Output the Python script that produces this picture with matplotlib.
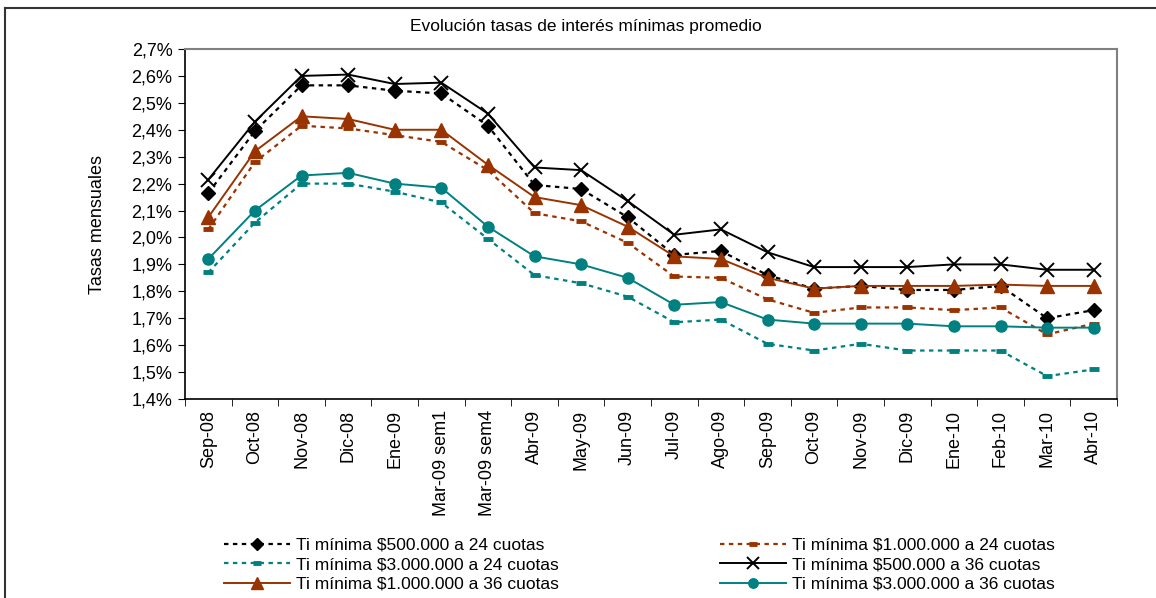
import numpy as np
import matplotlib
matplotlib.use("Agg")
import matplotlib.pyplot as plt
from matplotlib.ticker import FuncFormatter
from matplotlib.lines import Line2D

plt.rcParams['font.family'] = ['Liberation Sans', 'DejaVu Sans']

meses = ["Sep-08", "Oct-08", "Nov-08", "Dic-08", "Ene-09", "Mar-09 sem1", "Mar-09 sem4",
         "Abr-09", "May-09", "Jun-09", "Jul-09", "Ago-09", "Sep-09", "Oct-09", "Nov-09",
         "Dic-09", "Ene-10", "Feb-10", "Mar-10", "Abr-10"]

# tasas mensuales (%)
ti_500_24 = [2.165, 2.395, 2.565, 2.565, 2.545, 2.535, 2.415, 2.195, 2.18, 2.075,
             1.935, 1.95, 1.86, 1.81, 1.82, 1.805, 1.805, 1.82, 1.70, 1.73]
ti_1m_24 = [2.03, 2.28, 2.415, 2.405, 2.38, 2.355, 2.25, 2.09, 2.06, 1.98,
            1.855, 1.85, 1.77, 1.72, 1.74, 1.74, 1.73, 1.74, 1.64, 1.68]
ti_3m_24 = [1.87, 2.055, 2.20, 2.20, 2.17, 2.13, 1.995, 1.86, 1.83, 1.78,
            1.685, 1.695, 1.605, 1.58, 1.605, 1.58, 1.58, 1.58, 1.485, 1.51]
ti_500_36 = [2.215, 2.43, 2.60, 2.605, 2.57, 2.575, 2.46, 2.26, 2.25, 2.135,
             2.01, 2.03, 1.945, 1.89, 1.89, 1.89, 1.90, 1.90, 1.88, 1.88]
ti_1m_36 = [2.075, 2.32, 2.45, 2.44, 2.40, 2.40, 2.27, 2.15, 2.12, 2.04,
            1.93, 1.92, 1.85, 1.81, 1.82, 1.82, 1.82, 1.825, 1.82, 1.82]
ti_3m_36 = [1.92, 2.10, 2.23, 2.24, 2.20, 2.185, 2.04, 1.93, 1.90, 1.85,
            1.75, 1.76, 1.695, 1.68, 1.68, 1.68, 1.67, 1.67, 1.665, 1.665]

negro = "black"
cafe = "#993300"
verde = "#008080"

fig = plt.figure(figsize=(11.56, 5.98), dpi=100)
ax = fig.add_axes([185 / 1156, 1 - 399 / 598, (1117 - 185) / 1156, (399 - 49) / 598])

x = np.arange(len(meses))
pts = (0, (2, 2))

l1, = ax.plot(x, ti_500_24, color=negro, lw=1.6, ls=pts, marker="D", ms=7,
              label="Ti mínima $500.000 a 24 cuotas")
l2, = ax.plot(x, ti_1m_24, color=cafe, lw=1.6, ls=pts, marker="_", ms=7, mew=3.5,
              label="Ti mínima $1.000.000 a 24 cuotas")
l3, = ax.plot(x, ti_3m_24, color=verde, lw=1.6, ls=pts, marker="_", ms=7, mew=3.5,
              label="Ti mínima $3.000.000 a 24 cuotas")
l4, = ax.plot(x, ti_500_36, color=negro, lw=1.4, marker="x", ms=10, mew=1.4,
              label="Ti mínima $500.000 a 36 cuotas")
l5, = ax.plot(x, ti_1m_36, color=cafe, lw=1.4, marker="^", ms=9.5,
              label="Ti mínima $1.000.000 a 36 cuotas")
l6, = ax.plot(x, ti_3m_36, color=verde, lw=1.4, marker="o", ms=8,
              label="Ti mínima $3.000.000 a 36 cuotas")

ax.set_xlim(-0.5, len(meses) - 0.5)
ax.set_ylim(1.4, 2.7)
ax.set_yticks(np.arange(1.4, 2.701, 0.1))
ax.yaxis.set_major_formatter(FuncFormatter(lambda v, p: f"{v:.1f}%".replace(".", ",")))
ax.set_xticks(x)
ax.set_xticklabels(meses, rotation=90)
ax.set_xticks(np.arange(-0.5, len(meses)), minor=True)
ax.tick_params(axis="x", which="major", length=0, pad=8, labelsize=13)
ax.tick_params(axis="x", which="minor", length=5, direction="out")
ax.tick_params(axis="y", length=5, direction="out", labelsize=13, pad=4)

for s in ["top", "right"]:
    ax.spines[s].set_color("#808080")
    ax.spines[s].set_linewidth(1.5)
for s in ["left", "bottom"]:
    ax.spines[s].set_linewidth(1.2)

ax.set_ylabel("Tasas mensuales", fontsize=13, labelpad=18)
fig.text(586 / 1156, 1 - 27 / 598, "Evolución tasas de interés mínimas promedio",
         ha="center", va="center", fontsize=12.5)

leg = fig.legend(handles=[l1, l3, l5, l2, l4, l6], ncol=2, loc="upper left",
                 bbox_to_anchor=(215 / 1156, 1 - 529 / 598), frameon=False,
                 fontsize=12.5, handlelength=3.8, handletextpad=0.35,
                 labelspacing=0.25, columnspacing=9.3, borderpad=0,
                 markerscale=0.85)

# marco exterior del gráfico
fig.add_artist(Line2D([5 / 1156, 1], [1 - 8 / 598, 1 - 8 / 598], color="#333333", lw=1.5))
fig.add_artist(Line2D([5 / 1156, 5 / 1156], [0, 1 - 8 / 598], color="#333333", lw=1.5))

fig.savefig("out.png", dpi=100)
